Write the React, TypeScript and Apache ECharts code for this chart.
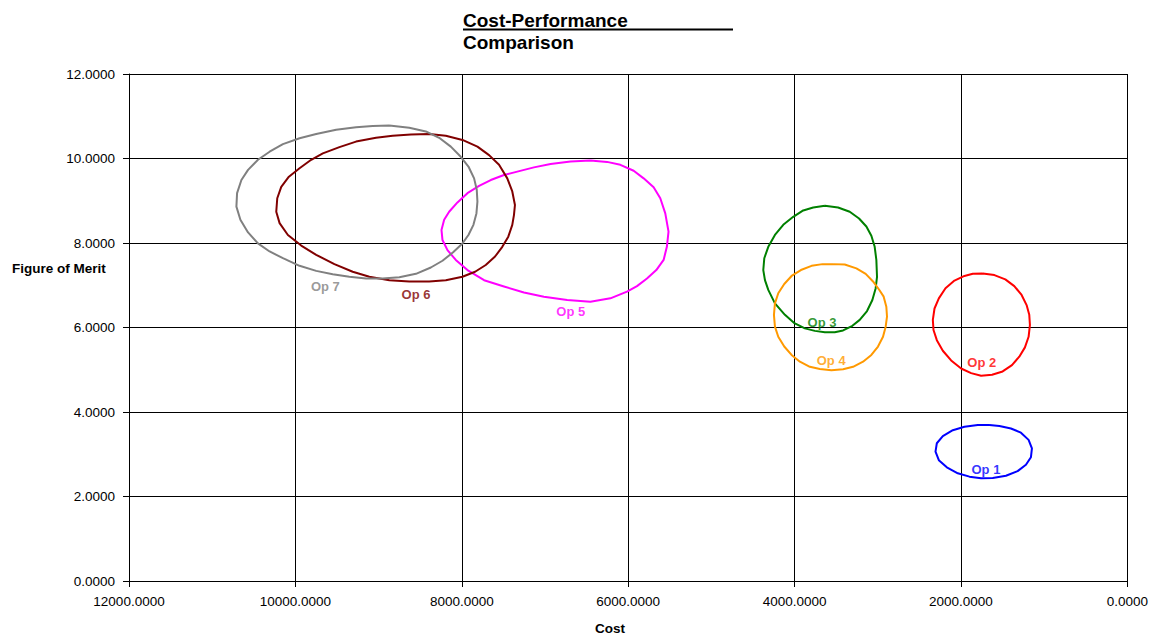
import React, { useEffect, useRef } from "react";
import * as echarts from "echarts";

const FONT = "'Liberation Sans', Arial, sans-serif";

const seriesNames = ["Op 1", "Op 2", "Op 3", "Op 4", "Op 5", "Op 6", "Op 7"];
const seriesColors = ["#0000FF", "#FF0000", "#008000", "#FF9900", "#FF00FF", "#800000", "#808080"];

// [Cost, Figure of Merit] outline points (closed loops)
const op1: number[][] = [
  [1658, 3.69], [1538, 3.67], [1399, 3.61], [1279, 3.51], [1187, 3.34], [1147, 3.14],
  [1159, 2.93], [1219, 2.75], [1319, 2.6], [1459, 2.49], [1618, 2.44], [1758, 2.43],
  [1898, 2.47], [2038, 2.55], [2170, 2.69], [2266, 2.86], [2306, 3.06], [2290, 3.26],
  [2218, 3.43], [2098, 3.57], [1958, 3.65], [1798, 3.69], [1658, 3.69],
];
const op2: number[][] = [
  [1738, 7.28], [1598, 7.24], [1467, 7.14], [1359, 6.98], [1271, 6.77], [1211, 6.53],
  [1179, 6.3], [1171, 6.06], [1187, 5.78], [1231, 5.53], [1299, 5.31], [1387, 5.11],
  [1499, 4.96], [1626, 4.88], [1758, 4.86], [1878, 4.92], [1998, 5.03], [2118, 5.22],
  [2218, 5.45], [2290, 5.7], [2330, 5.94], [2338, 6.18], [2318, 6.45], [2266, 6.69],
  [2186, 6.93], [2078, 7.11], [1958, 7.22], [1858, 7.27], [1738, 7.28],
];
const op3: number[][] = [
  [3636, 8.88], [3477, 8.84], [3337, 8.74], [3225, 8.58], [3137, 8.39], [3077, 8.17],
  [3037, 7.91], [3017, 7.6], [3009, 7.2], [3025, 6.93], [3065, 6.65], [3129, 6.39],
  [3217, 6.18], [3305, 6.04], [3417, 5.93], [3517, 5.89], [3636, 5.89], [3756, 5.92],
  [3876, 5.98], [4008, 6.11], [4116, 6.3], [4236, 6.57], [4316, 6.89], [4356, 7.12],
  [4376, 7.36], [4364, 7.64], [4316, 7.91], [4236, 8.19], [4136, 8.43], [4016, 8.62],
  [3896, 8.77], [3776, 8.84], [3636, 8.88],
];
const op4: number[][] = [
  [3537, 7.5], [3397, 7.49], [3257, 7.4], [3145, 7.27], [3057, 7.09], [2985, 6.9],
  [2929, 6.73], [2897, 6.49], [2889, 6.26], [2905, 6.02], [2937, 5.78], [2997, 5.55],
  [3077, 5.35], [3177, 5.19], [3297, 5.07], [3417, 5.01], [3557, 4.99], [3696, 5.02],
  [3816, 5.07], [3936, 5.19], [4036, 5.35], [4124, 5.55], [4196, 5.78], [4236, 6.02],
  [4248, 6.3], [4236, 6.57], [4196, 6.81], [4124, 7.03], [4036, 7.22], [3924, 7.36],
  [3796, 7.46], [3664, 7.5], [3537, 7.5],
];
const op5: number[][] = [
  [6454, 9.95], [6254, 9.92], [6094, 9.85], [5934, 9.71], [5814, 9.53], [5694, 9.32],
  [5614, 9.06], [5554, 8.7], [5515, 8.27], [5535, 7.91], [5574, 7.6], [5662, 7.36],
  [5774, 7.16], [5894, 6.98], [6014, 6.85], [6214, 6.69], [6454, 6.61], [6733, 6.65],
  [7013, 6.73], [7253, 6.83], [7493, 6.97], [7732, 7.12], [7932, 7.36], [8072, 7.6],
  [8172, 7.83], [8232, 8.07], [8244, 8.31], [8212, 8.55], [8152, 8.74], [8052, 8.96],
  [7932, 9.18], [7792, 9.35], [7652, 9.49], [7493, 9.61], [7333, 9.69], [7133, 9.79],
  [6933, 9.87], [6693, 9.93], [6454, 9.95],
];
const op6: number[][] = [
  [8392, 10.58], [8192, 10.54], [7992, 10.44], [7812, 10.28], [7672, 10.08], [7552, 9.85],
  [7453, 9.53], [7393, 9.22], [7361, 8.9], [7373, 8.66], [7393, 8.43], [7441, 8.15],
  [7513, 7.91], [7600, 7.68], [7712, 7.48], [7840, 7.32], [7992, 7.2], [8192, 7.12],
  [8392, 7.09], [8631, 7.09], [8871, 7.12], [9111, 7.2], [9311, 7.32], [9531, 7.5],
  [9750, 7.72], [9930, 7.94], [10090, 8.19], [10190, 8.47], [10230, 8.74], [10218, 9.06],
  [10170, 9.33], [10078, 9.57], [9950, 9.77], [9810, 9.97], [9670, 10.12], [9471, 10.27],
  [9271, 10.4], [9031, 10.49], [8831, 10.54], [8611, 10.57], [8392, 10.58],
];
const op7: number[][] = [
  [8871, 10.78], [8631, 10.73], [8432, 10.64], [8272, 10.49], [8132, 10.28], [8012, 10.04],
  [7920, 9.81], [7852, 9.53], [7820, 9.26], [7812, 8.98], [7824, 8.7], [7860, 8.43],
  [7920, 8.19], [7992, 7.99], [8104, 7.78], [8232, 7.58], [8372, 7.42], [8551, 7.27],
  [8751, 7.19], [8951, 7.16], [9151, 7.16], [9351, 7.2], [9551, 7.26], [9750, 7.34],
  [9950, 7.46], [10150, 7.64], [10310, 7.8], [10450, 7.99], [10569, 8.25], [10661, 8.55],
  [10709, 8.86], [10701, 9.18], [10649, 9.49], [10569, 9.73], [10450, 9.97], [10310, 10.16],
  [10150, 10.34], [9950, 10.48], [9750, 10.58], [9510, 10.68], [9271, 10.74], [9071, 10.77],
  [8871, 10.78],
];
const outlines = [op1, op2, op3, op4, op5, op6, op7];

// label anchor positions [Cost, Figure of Merit]
const labelPositions: number[][] = [
  [1700, 2.65], [1750, 5.18], [3670, 6.13], [3560, 5.21], [6690, 6.37], [8550, 6.77], [9640, 6.96],
];

const xTicks = { min: 0, max: 12000, interval: 2000 };
const yTicks = { min: 0, max: 12, interval: 2 };

export default function App() {
  const ref = useRef<HTMLDivElement>(null);
  useEffect(() => {
    if (!ref.current) return;
    const chart = echarts.init(ref.current, null, { renderer: "svg" });
    const lineSeries = outlines.map((pts, i) => ({
      name: seriesNames[i],
      type: "line",
      data: pts,
      showSymbol: false,
      symbol: "none",
      smooth: false,
      lineStyle: { color: seriesColors[i], width: 2, join: "round" },
      itemStyle: { color: seriesColors[i] },
      silent: true,
      z: 3,
    }));
    const labelSeries = {
      type: "scatter",
      symbolSize: 0,
      silent: true,
      z: 5,
      data: labelPositions.map((p, i) => ({
        value: p,
        name: seriesNames[i],
        label: {
          show: true,
          position: "inside",
          formatter: seriesNames[i],
          color: seriesColors[i],
          fontFamily: FONT,
          fontWeight: "bold",
          fontSize: 13,
        },
      })),
    };
    chart.setOption({
      animation: false,
      backgroundColor: "#ffffff",
      grid: { left: 129, right: 21, top: 74, bottom: 53, containLabel: false },
      xAxis: {
        type: "value",
        inverse: true,
        min: xTicks.min,
        max: xTicks.max,
        interval: xTicks.interval,
        axisLine: { show: true, onZero: false, lineStyle: { color: "#000", width: 1 } },
        axisTick: { show: true, length: 6, lineStyle: { color: "#000" } },
        axisLabel: {
          margin: 13,
          color: "#000",
          fontFamily: FONT,
          fontSize: 13.5,
          formatter: (v: number) => v.toFixed(4),
        },
        splitLine: { show: true, showMinLine: true, showMaxLine: true, lineStyle: { color: "#000", width: 1 } },
      },
      yAxis: {
        type: "value",
        min: yTicks.min,
        max: yTicks.max,
        interval: yTicks.interval,
        axisLine: { show: true, onZero: false, lineStyle: { color: "#000", width: 1 } },
        axisTick: { show: true, length: 6, lineStyle: { color: "#000" } },
        axisLabel: {
          margin: 14,
          color: "#000",
          fontFamily: FONT,
          fontSize: 13.5,
          formatter: (v: number) => v.toFixed(4),
        },
        splitLine: { show: true, showMinLine: true, showMaxLine: true, lineStyle: { color: "#000", width: 1 } },
      },
      graphic: [
        {
          type: "text",
          left: 463,
          top: 11,
          style: { text: "Cost-Performance", fill: "#000", fontFamily: FONT, fontWeight: "bold", fontSize: 19 },
        },
        {
          type: "line",
          shape: { x1: 463, y1: 29.5, x2: 733, y2: 29.5 },
          style: { stroke: "#000", lineWidth: 2 },
        },
        {
          type: "text",
          left: 463,
          top: 33,
          style: { text: "Comparison", fill: "#000", fontFamily: FONT, fontWeight: "bold", fontSize: 19 },
        },
        {
          type: "text",
          left: 12,
          top: 261,
          style: { text: "Figure of Merit", fill: "#000", fontFamily: FONT, fontWeight: "bold", fontSize: 13.5 },
        },
        {
          type: "text",
          left: 595,
          top: 621,
          style: { text: "Cost", fill: "#000", fontFamily: FONT, fontWeight: "bold", fontSize: 13.5 },
        },
      ],
      series: [...lineSeries, labelSeries],
    });
    return () => chart.dispose();
  }, []);
  return (
    <div
      ref={ref}
      style={{ position: "fixed", left: 0, top: 0, width: 1151, height: 634, background: "#fff" }}
    />
  );
}
